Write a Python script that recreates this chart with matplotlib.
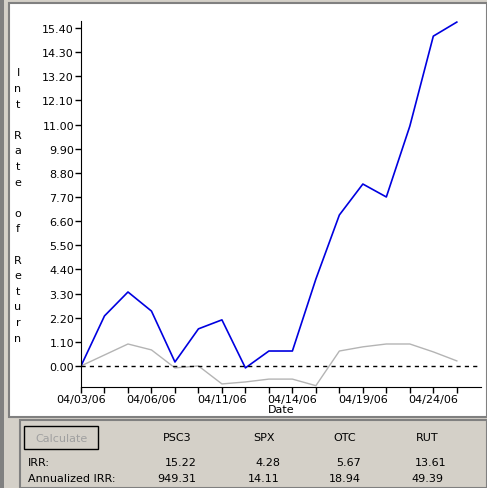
import matplotlib
matplotlib.use("Agg")
import matplotlib.pyplot as plt
from matplotlib.patches import Rectangle

# chart data
dates = ["04/03/06", "", "", "04/06/06", "", "", "04/11/06", "", "", "04/14/06",
         "", "", "04/19/06", "", "", "04/24/06", ""]
psc3 = [0.0, 2.28, 3.37, 2.5, 0.18, 1.69, 2.1, -0.09, 0.68, 0.68, 3.96, 6.88,
        8.29, 7.7, 10.93, 15.03, 15.67]
index_line = [0.0, 0.5, 1.0, 0.73, -0.09, 0.0, -0.82, -0.73, -0.6, -0.6, -0.9,
              0.68, 0.87, 1.0, 1.0, 0.64, 0.23]
yticks = [0.0, 1.1, 2.2, 3.3, 4.4, 5.5, 6.6, 7.7, 8.8, 9.9, 11.0, 12.1, 13.2, 14.3, 15.4]
series = ["PSC3", "SPX", "OTC", "RUT"]
irr = ["15.22", "4.28", "5.67", "13.61"]
ann_irr = ["949.31", "14.11", "18.94", "49.39"]

W, H = 487, 489
fig = plt.figure(figsize=(W / 100, H / 100), dpi=100, facecolor="#d4d0c8")

def fx(px):
    return px / W

def fy(py):
    return 1 - py / H

# white chart panel and window borders
fig.patches.append(Rectangle((fx(9), fy(418)), fx(478), 414 / H, transform=fig.transFigure,
                             facecolor="white", edgecolor="#808080", lw=1.5, zorder=-2))
fig.patches.append(Rectangle((0, 0), fx(4), 1, transform=fig.transFigure,
                             facecolor="#808080", edgecolor="none", zorder=-2))
fig.patches.append(Rectangle((fx(20), 0), fx(467), fy(421), transform=fig.transFigure,
                             facecolor="#d4d0c8", edgecolor="#808080", lw=1.5, zorder=-2))

ax = fig.add_axes([fx(81), fy(388), fx(400), 366 / H])
ax.patch.set_alpha(0)
x = list(range(len(psc3)))
ax.plot(x, index_line, color="#b4b4b4", lw=1)
ax.plot(x, psc3, color="#0000e0", lw=1.2)
ax.axhline(0, color="black", ls=(0, (3, 3)), lw=1)
ax.set_xlim(0, 17.03)
ax.set_ylim(-0.96, 15.72)
ax.set_yticks(yticks)
ax.set_yticklabels([f"{v:.2f}" for v in yticks])
ax.set_xticks(x)
ax.set_xticklabels(dates)
for s in ["top", "right"]:
    ax.spines[s].set_visible(False)
ax.tick_params(labelsize=8, length=4, width=1, pad=1)
ax.set_xlabel("Date", fontsize=8, labelpad=0)

fig.text(fx(18), fy(206), "I\nn\nt\n \nR\na\nt\ne\n \no\nf\n \nR\ne\nt\nu\nr\nn",
         ha="center", va="center", fontsize=8, linespacing=1.7)

# bottom panel
btn = Rectangle((fx(24), fy(450)), fx(74), 23 / H, transform=fig.transFigure,
                facecolor="#d4d0c8", edgecolor="black", lw=1, zorder=-1)
fig.patches.append(btn)
fig.text(fx(61), fy(439), "Calculate", ha="center", va="center", fontsize=8, color="#a0a0a0")
cols = [177, 264, 345, 427]
for cx, name, a, b in zip(cols, series, irr, ann_irr):
    fig.text(fx(cx), fy(438), name, ha="center", va="center", fontsize=8)
    fig.text(fx(cx + 4), fy(463), a, ha="center", va="center", fontsize=8)
    fig.text(fx(cx), fy(479), b, ha="center", va="center", fontsize=8)
fig.text(fx(28), fy(463), "IRR:", ha="left", va="center", fontsize=8)
fig.text(fx(28), fy(479), "Annualized IRR:", ha="left", va="center", fontsize=8)

fig.savefig("out.png", dpi=100, facecolor=fig.get_facecolor())
